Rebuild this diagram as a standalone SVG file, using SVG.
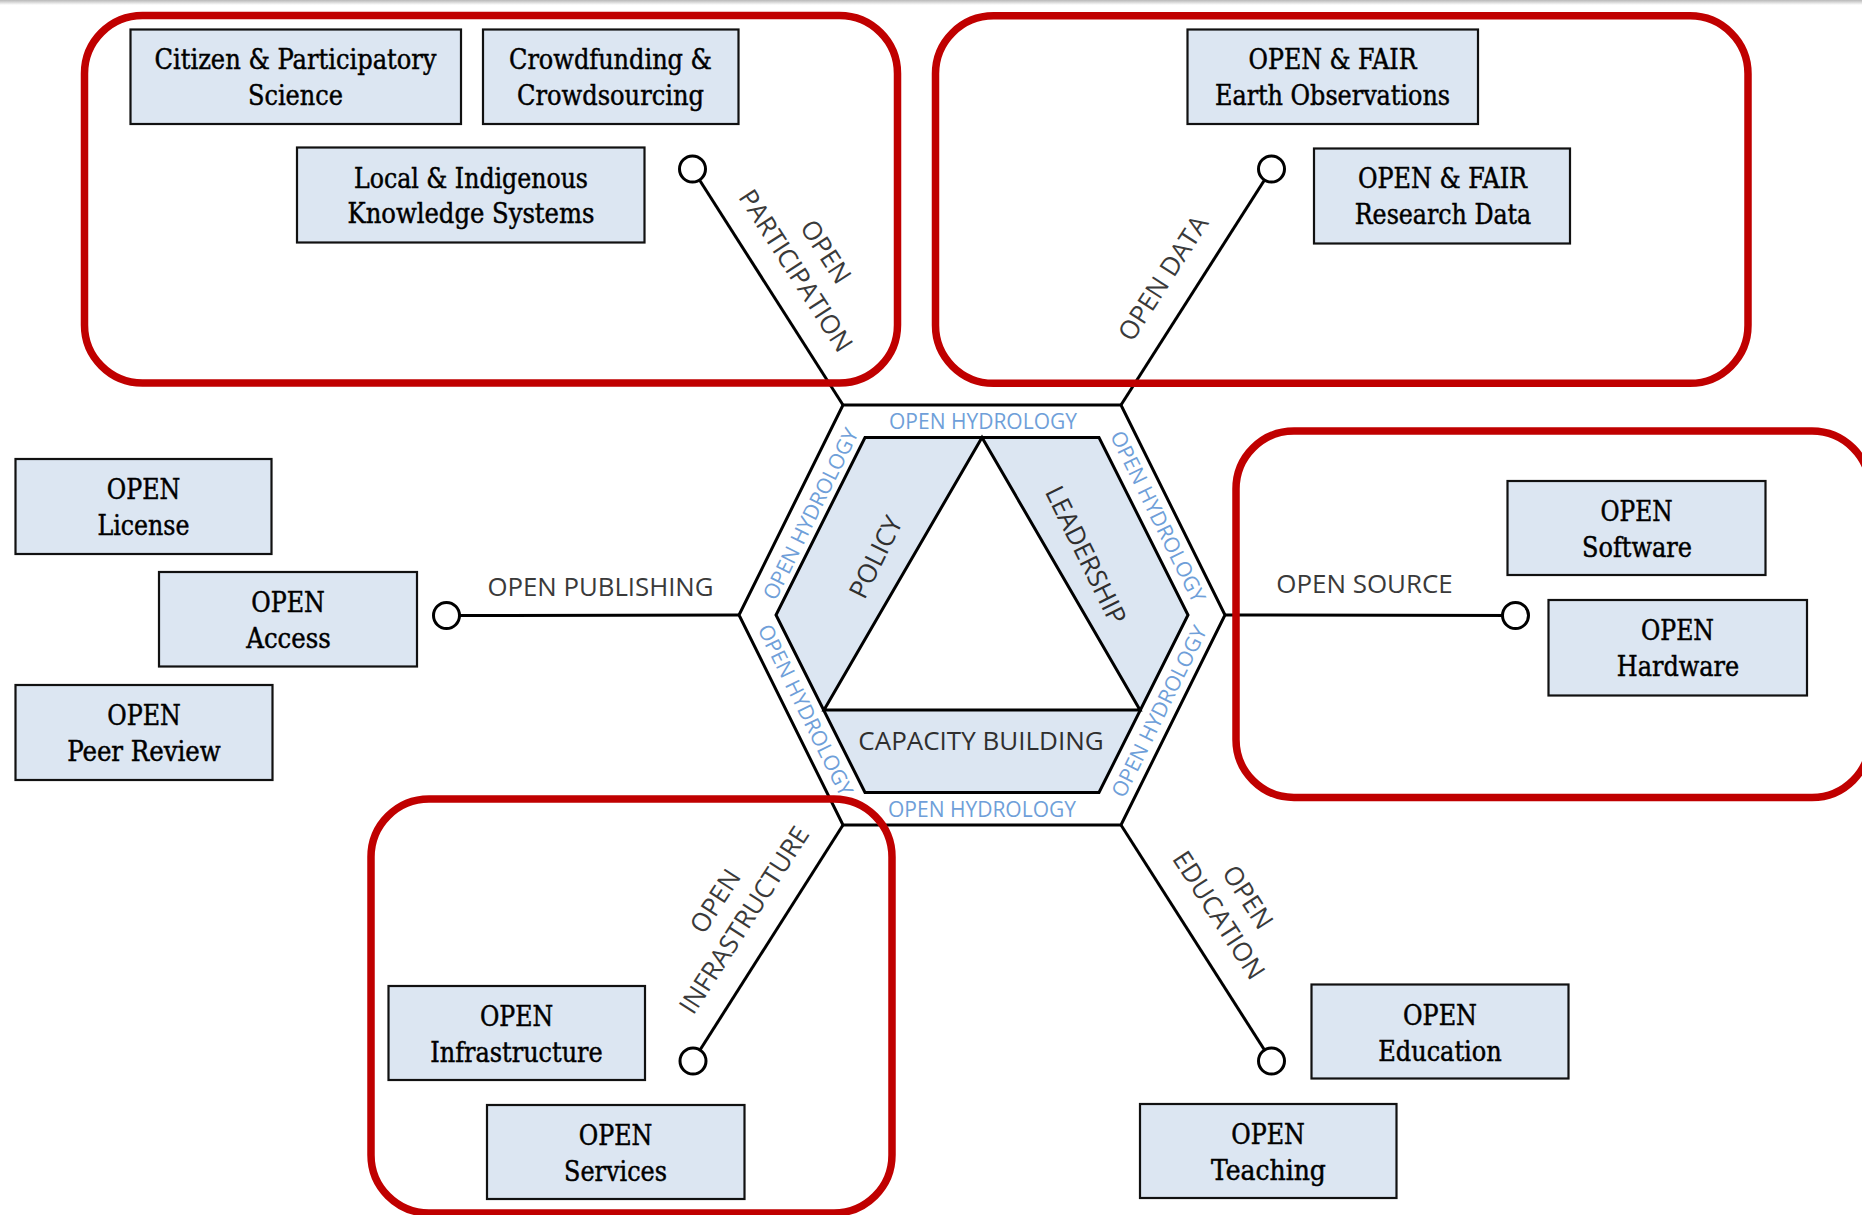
<svg xmlns="http://www.w3.org/2000/svg" width="1862" height="1215" viewBox="0 0 1862 1215">
<defs>
<linearGradient id="topband" x1="0" y1="0" x2="0" y2="1">
<stop offset="0" stop-color="#b8b8b8"/>
<stop offset="1" stop-color="#ffffff"/>
</linearGradient>
<style>
.node rect{fill:#dce6f2;stroke:#111;stroke-width:2.2}
.node text{font-family:"DejaVu Serif Condensed","DejaVu Serif",serif;font-stretch:condensed;font-size:27px;fill:#000;stroke:#000;stroke-width:0.45;text-anchor:middle}
.group{fill:none;stroke:#c00000;stroke-width:7.5}
.spoke{stroke:#000;stroke-width:3;fill:none}
.end{fill:#fff;stroke:#000;stroke-width:3}
.lbl{font-family:"Open Sans","Liberation Sans",sans-serif;font-size:26px;fill:#3a3a3a;text-anchor:middle}
.hyd{font-family:"Open Sans","Liberation Sans",sans-serif;font-size:21px;fill:#6f9fd9;text-anchor:middle}
.core{font-family:"Open Sans","Liberation Sans",sans-serif;font-size:26px;fill:#2f2f2f;text-anchor:middle}
</style>
</defs>
<rect x="0" y="0" width="1862" height="1215" fill="#fff"/>
<rect x="0" y="0" width="1862" height="5" fill="url(#topband)"/>

<g id="connectors">
<line class="spoke" x1="692.5" y1="169" x2="843" y2="405"/>
<line class="spoke" x1="1271.5" y1="169" x2="1121" y2="405"/>
<line class="spoke" x1="446.5" y1="615.5" x2="739" y2="615"/>
<line class="spoke" x1="1515.5" y1="615.5" x2="1225" y2="615"/>
<line class="spoke" x1="693" y1="1061" x2="843" y2="825"/>
<line class="spoke" x1="1271.5" y1="1061" x2="1121" y2="825"/>
<circle class="end" cx="692.5" cy="169" r="13"/>
<circle class="end" cx="1271.5" cy="169" r="13"/>
<circle class="end" cx="446.5" cy="615.5" r="13"/>
<circle class="end" cx="1515.5" cy="615.5" r="13"/>
<circle class="end" cx="693" cy="1061" r="13"/>
<circle class="end" cx="1271.5" cy="1061" r="13"/>
<text class="lbl" transform="translate(826,251.5) rotate(57.3)" y="9.3">OPEN</text>
<text class="lbl" transform="translate(796,270.5) rotate(57.3)" y="9.3">PARTICIPATION</text>
<text class="lbl" transform="translate(1163,278) rotate(-57.3)" y="9.3">OPEN DATA</text>
<text class="lbl" x="600.5" y="596" textLength="226" lengthAdjust="spacingAndGlyphs">OPEN PUBLISHING</text>
<text class="lbl" x="1364.5" y="593" textLength="176.5" lengthAdjust="spacingAndGlyphs">OPEN SOURCE</text>
<text class="lbl" transform="translate(715,901) rotate(-57.3)" y="9.3">OPEN</text>
<text class="lbl" transform="translate(744,920) rotate(-57.3)" y="9.3">INFRASTRUCTURE</text>
<text class="lbl" transform="translate(1248,897) rotate(57.3)" y="9.3">OPEN</text>
<text class="lbl" transform="translate(1219,915) rotate(57.3)" y="9.3">EDUCATION</text>
</g>

<g id="hub">
<polygon points="843,405 1121,405 1225,615 1121,825 843,825 739,615" fill="#fff" stroke="#000" stroke-width="3"/>
<polygon points="865,437.5 1099,437.5 1188,615 1099,792.5 865,792.5 776,615" fill="#dce6f2" stroke="#000" stroke-width="3"/>
<polygon points="982,437.5 1140,710 824,710" fill="#fff" stroke="#000" stroke-width="3" stroke-linejoin="miter"/>
<text class="hyd" x="983" y="429">OPEN HYDROLOGY</text>
<text class="hyd" x="982" y="817">OPEN HYDROLOGY</text>
<text class="hyd" transform="translate(810.5,514) rotate(-63.7)" y="7.5">OPEN HYDROLOGY</text>
<text class="hyd" transform="translate(1158,516.5) rotate(63.7)" y="7.5">OPEN HYDROLOGY</text>
<text class="hyd" transform="translate(805.5,710) rotate(63.7)" y="7.5">OPEN HYDROLOGY</text>
<text class="hyd" transform="translate(1159,711.5) rotate(-63.7)" y="7.5">OPEN HYDROLOGY</text>
<text class="core" transform="translate(875.5,557) rotate(-63.7)" y="9.3">POLICY</text>
<text class="core" transform="translate(1086,555) rotate(63.7)" y="9.3">LEADERSHIP</text>
<text class="core" x="981" y="750">CAPACITY BUILDING</text>
</g>

<g id="node-citizen" class="node"><rect x="130.5" y="29.5" width="330.5" height="94.5"/>
<text x="295.5" y="69" textLength="282" lengthAdjust="spacingAndGlyphs">Citizen &amp; Participatory</text>
<text x="295.5" y="105" textLength="95" lengthAdjust="spacingAndGlyphs">Science</text></g>
<g id="node-crowd" class="node"><rect x="483" y="29.5" width="255.5" height="94.5"/>
<text x="610.5" y="69" textLength="203" lengthAdjust="spacingAndGlyphs">Crowdfunding &amp;</text>
<text x="610.5" y="105" textLength="187" lengthAdjust="spacingAndGlyphs">Crowdsourcing</text></g>
<g id="node-local" class="node"><rect x="297" y="147.5" width="347.5" height="95"/>
<text x="471" y="187.5" textLength="234" lengthAdjust="spacingAndGlyphs">Local &amp; Indigenous</text>
<text x="471" y="223" textLength="247" lengthAdjust="spacingAndGlyphs">Knowledge Systems</text></g>
<g id="node-eo" class="node"><rect x="1187.5" y="29.5" width="290.5" height="94.5"/>
<text x="1332.5" y="69" textLength="168" lengthAdjust="spacingAndGlyphs">OPEN &amp; FAIR</text>
<text x="1332.5" y="104.5" textLength="235" lengthAdjust="spacingAndGlyphs">Earth Observations</text></g>
<g id="node-rd" class="node"><rect x="1314" y="148.5" width="256" height="95"/>
<text x="1442.5" y="188" textLength="169" lengthAdjust="spacingAndGlyphs">OPEN &amp; FAIR</text>
<text x="1443" y="224" textLength="176.5" lengthAdjust="spacingAndGlyphs">Research Data</text></g>
<g id="node-license" class="node"><rect x="15.5" y="459" width="256" height="95"/>
<text x="143.5" y="499" textLength="73.5" lengthAdjust="spacingAndGlyphs">OPEN</text>
<text x="143.5" y="535" textLength="92" lengthAdjust="spacingAndGlyphs">License</text></g>
<g id="node-access" class="node"><rect x="159" y="572" width="258" height="94.5"/>
<text x="288" y="612" textLength="73.5" lengthAdjust="spacingAndGlyphs">OPEN</text>
<text x="288.5" y="648" textLength="84.4" lengthAdjust="spacingAndGlyphs">Access</text></g>
<g id="node-peer" class="node"><rect x="15.5" y="685" width="257" height="95"/>
<text x="144" y="725" textLength="73.5" lengthAdjust="spacingAndGlyphs">OPEN</text>
<text x="144" y="761" textLength="153.6" lengthAdjust="spacingAndGlyphs">Peer Review</text></g>
<g id="node-software" class="node"><rect x="1507.5" y="481" width="258" height="94"/>
<text x="1636.5" y="521" textLength="72" lengthAdjust="spacingAndGlyphs">OPEN</text>
<text x="1637" y="557" textLength="110" lengthAdjust="spacingAndGlyphs">Software</text></g>
<g id="node-hardware" class="node"><rect x="1548.5" y="600" width="258.5" height="95.5"/>
<text x="1677.5" y="640" textLength="73" lengthAdjust="spacingAndGlyphs">OPEN</text>
<text x="1678" y="676" textLength="122.4" lengthAdjust="spacingAndGlyphs">Hardware</text></g>
<g id="node-infra" class="node"><rect x="388.5" y="986" width="256.5" height="94"/>
<text x="516.5" y="1026" textLength="73.2" lengthAdjust="spacingAndGlyphs">OPEN</text>
<text x="516.5" y="1062" textLength="172.5" lengthAdjust="spacingAndGlyphs">Infrastructure</text></g>
<g id="node-services" class="node"><rect x="487" y="1105" width="257.5" height="94"/>
<text x="615.5" y="1145" textLength="73.6" lengthAdjust="spacingAndGlyphs">OPEN</text>
<text x="615.5" y="1181" textLength="102.8" lengthAdjust="spacingAndGlyphs">Services</text></g>
<g id="node-education" class="node"><rect x="1311.5" y="984.5" width="257" height="94"/>
<text x="1440" y="1024.5" textLength="73.9" lengthAdjust="spacingAndGlyphs">OPEN</text>
<text x="1440" y="1060.5" textLength="123.6" lengthAdjust="spacingAndGlyphs">Education</text></g>
<g id="node-teaching" class="node"><rect x="1140" y="1104" width="256.5" height="94"/>
<text x="1268" y="1144" textLength="73.5" lengthAdjust="spacingAndGlyphs">OPEN</text>
<text x="1268.5" y="1180" textLength="114.8" lengthAdjust="spacingAndGlyphs">Teaching</text></g>

<g id="groups">
<rect class="group" x="84.5" y="15.5" width="813" height="367.5" rx="58" ry="58"/>
<rect class="group" x="935.5" y="15.8" width="812.5" height="367.5" rx="58" ry="58"/>
<rect class="group" x="1236" y="431" width="634" height="366.5" rx="58" ry="58"/>
<rect class="group" x="371" y="799" width="521" height="414" rx="58" ry="58"/>
</g>
</svg>
